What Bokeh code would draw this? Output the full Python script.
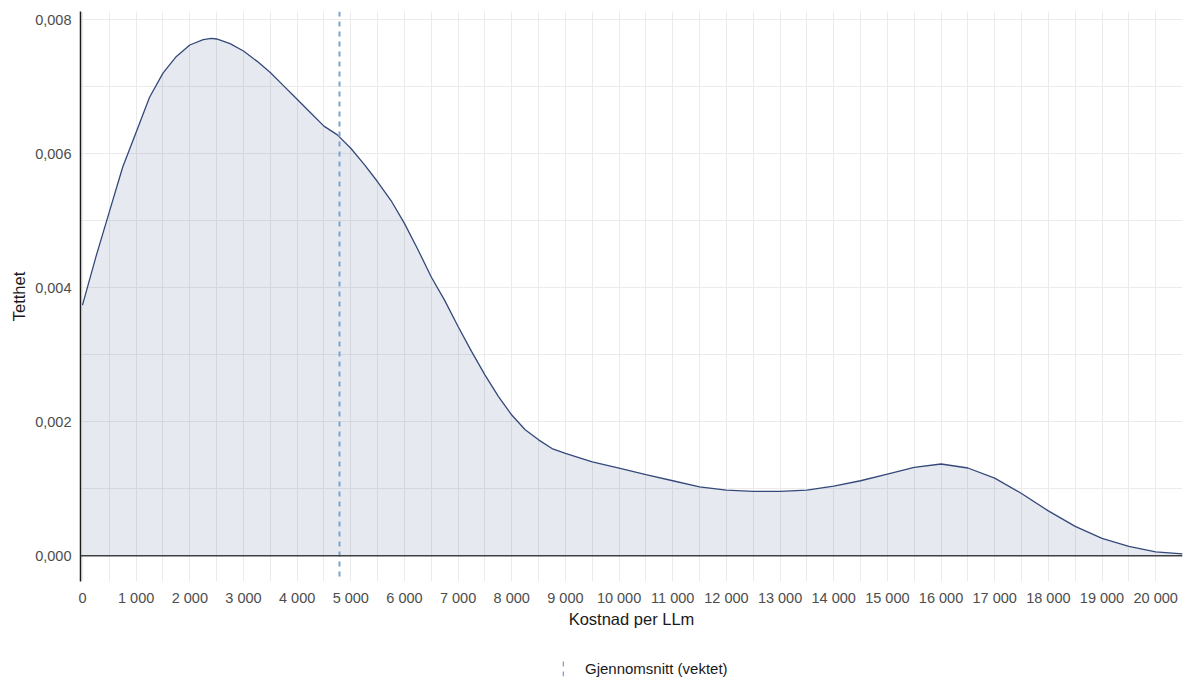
from bokeh.plotting import figure
from bokeh.layouts import column
from bokeh.models import FixedTicker, Span, Legend, LegendItem, Range1d
from bokeh.embed import file_html
from bokeh.resources import INLINE

# ---- data ----
cost = [0, 250, 500, 750, 1000, 1250, 1500, 1750, 2000, 2250, 2400, 2500,
        2750, 3000, 3250, 3500, 3750, 4000, 4250, 4500, 4750, 5000, 5250,
        5500, 5750, 6000, 6250, 6500, 6750, 7000, 7250, 7500, 7750, 8000,
        8250, 8500, 8750, 9000, 9500, 10000, 10500, 11000, 11500, 12000,
        12500, 13000, 13500, 14000, 14500, 15000, 15500, 16000, 16500,
        17000, 17500, 18000, 18500, 19000, 19500, 20000, 20500]
density = [0.00374, 0.00446, 0.00513, 0.00580, 0.00632, 0.00684, 0.00720,
           0.00745, 0.00762, 0.00770, 0.00772, 0.00771, 0.00764, 0.00753,
           0.00738, 0.00721, 0.00701, 0.00681, 0.00661, 0.00641, 0.00628,
           0.00608, 0.00584, 0.00558, 0.00530, 0.00496, 0.00457, 0.00416,
           0.00381, 0.00342, 0.00305, 0.00270, 0.00238, 0.00210, 0.00188,
           0.00173, 0.00160, 0.00153, 0.00140, 0.00131, 0.00121, 0.00112,
           0.00103, 0.00098, 0.00096, 0.00096, 0.00098, 0.00104, 0.00112,
           0.00122, 0.00132, 0.00137, 0.00131, 0.00116, 0.00093, 0.00067,
           0.00044, 0.00026, 0.00014, 0.00006, 0.00003]
weighted_mean = 4790
legend_label = "Gjennomsnitt (vektet)"

x_ticks = list(range(0, 20001, 1000))
x_minor = list(range(500, 20501, 1000))
y_ticks = [0.0, 0.002, 0.004, 0.006, 0.008]
y_minor = [0.001, 0.003, 0.005, 0.007]


def fmt_thousands(v):
    return f"{v:,}".replace(",", " ")


x_labels = {t: fmt_thousands(t) for t in x_ticks}
y_labels = {t: f"{t:.3f}".replace(".", ",") for t in y_ticks}

FONT = "Liberation Sans"
W = 1183
MEAN_COLOR = "#7aa3d3"

p = figure(width=W, height=631, output_backend="svg", toolbar_location=None,
           x_range=Range1d(-37, 20500), y_range=Range1d(-0.000383, 0.00812),
           min_border_left=80, min_border_right=1, min_border_top=11,
           min_border_bottom=50)
p.outline_line_color = None
p.background_fill_color = "white"

# grid
p.xaxis.ticker = FixedTicker(ticks=x_ticks, minor_ticks=x_minor)
p.yaxis.ticker = FixedTicker(ticks=y_ticks, minor_ticks=y_minor)
for g in (p.xgrid, p.ygrid):
    g.grid_line_color = "#ebebeb"
    g.grid_line_width = 1
    g.minor_grid_line_color = "#ebebeb"
    g.minor_grid_line_width = 1

# density area + outline
p.varea(x=cost, y1=0, y2=density, fill_color="#3b5482", fill_alpha=0.13)
p.line(x=cost, y=density, line_color="#34497a", line_width=1.3)

# zero line
p.add_layout(Span(location=0, dimension="width", line_color="#404040",
                  line_width=1.5))

# weighted mean
p.vspan(x=[weighted_mean], line_color=MEAN_COLOR, line_width=2,
        line_dash="5 5")

# axes
p.xaxis.major_label_overrides = x_labels
p.yaxis.major_label_overrides = y_labels
p.xaxis.axis_label = "Kostnad per LLm"
p.yaxis.axis_label = "Tetthet"
for ax in (p.xaxis, p.yaxis):
    ax.major_tick_line_color = None
    ax.minor_tick_line_color = None
    ax.major_tick_out = 0
    ax.major_tick_in = 0
    ax.minor_tick_out = 0
    ax.minor_tick_in = 0
    ax.major_label_text_font = FONT
    ax.major_label_text_font_size = "14.5px"
    ax.major_label_text_color = "#4d4d4d"
    ax.axis_label_text_font = FONT
    ax.axis_label_text_font_size = "16.5px"
    ax.axis_label_text_font_style = "normal"
    ax.axis_label_text_color = "#1a1a1a"
p.xaxis.axis_line_color = None
p.xaxis.major_label_standoff = 8
p.xaxis.axis_label_standoff = 1
p.yaxis.axis_line_color = "#1a1a1a"
p.yaxis.axis_line_width = 1.5
p.yaxis.major_label_standoff = 9
p.yaxis.axis_label_standoff = 4

# legend strip below the plot (key drawn as a thin dashed vertical bar)
lg = figure(width=W, height=48, output_backend="svg", toolbar_location=None,
            x_range=Range1d(0, 1), y_range=Range1d(0, 1),
            x_axis_type=None, y_axis_type=None, min_border=0)
lg.outline_line_color = None
lg.grid.visible = False
key = lg.vbar(x=[weighted_mean], width=1, top=[0], fill_alpha=0,
              line_alpha=0, hatch_pattern="horizontal_line",
              hatch_color=MEAN_COLOR, hatch_scale=10, hatch_weight=5)
legend = Legend(items=[LegendItem(label=legend_label, renderers=[key])],
                orientation="horizontal", location=(482, 1),
                label_text_font=FONT, label_text_font_size="15px",
                label_text_color="#1a1a1a", border_line_color=None,
                background_fill_alpha=0, padding=0, margin=0,
                glyph_width=2, glyph_height=20, label_standoff=21)
lg.add_layout(legend)

layout = column(p, lg, spacing=0)
open("out.html", "w").write(file_html(layout, INLINE))
